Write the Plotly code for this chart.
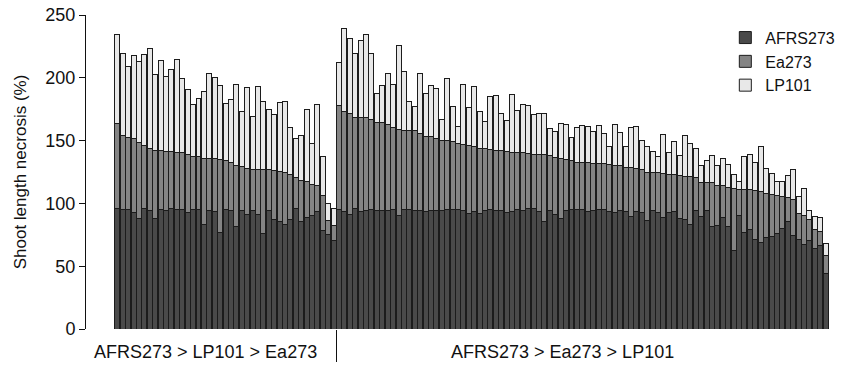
import plotly.graph_objects as go

# ---- data ----
group_labels = ["AFRS273 > LP101 > Ea273", "AFRS273 > Ea273 > LP101"]
series_names = ["AFRS273", "Ea273", "LP101"]

# cumulative tops: [AFRS273 top, AFRS273+Ea273 top, total top]
g1_afrs = [96.3, 95.5, 95.5, 92.9, 87.6, 96, 94.7, 87.6, 95, 94.5, 96, 95.5, 95.5, 92.6, 95.3, 95.3, 83, 94.7, 93.7, 77,
           95.3, 94.2, 81.5, 94.7, 91, 94.7, 91, 76.4, 94.7, 86.8, 85.7, 83, 87.3, 96.3, 85.5, 88.6, 90, 93.2, 78.8, 75.6, 70.6]
g1_mid = [164, 154, 152.3, 152, 148.4, 146.5, 144, 142.5, 142.3, 141.7, 141, 140.7, 140.7, 139, 137.2, 137, 135.9, 135.6, 135.4, 134.8,
          134, 132.7, 130.3, 129.5, 127.4, 127.1, 126.9, 126.9, 126.6, 126, 125.3, 125, 123.1, 120.5, 118.6, 117.8, 115.2, 114.1, 105.9, 86, 82.8]
g1_total = [234.3, 219.7, 209, 218, 213, 218.7, 223.7, 202.8, 213.9, 201.4, 207, 214.4, 199.8, 190.3, 179, 183.7, 189.2, 203.8, 200.6, 194,
            179.7, 182.6, 195, 173.3, 192.4, 168.8, 192.7, 181.3, 174.9, 170.4, 180.5, 181, 160.8, 151.3, 154.2, 174.4, 147.3, 178.9, 137.7, 100.3, 95.8]

g2_afrs = [95, 93.2, 91, 96, 93.2, 94.2, 95, 94.7, 94.5, 94.7, 95.5, 90, 95.3, 95.3, 94.7, 94.7, 93.2, 94.5, 94, 94.2,
           95.3, 95.3, 95, 94.2, 91.8, 93.7, 91.8, 94.2, 95.3, 94.2, 94.2, 92.4, 93.9, 95.3, 94.5, 96, 95.8, 93.7, 85.5, 94.5,
           90.8, 87.8, 94.2, 95.5, 95.5, 95, 93.4, 94, 95.3, 95, 93.4, 92.9, 94.5, 93.2, 89.4, 93.2, 92.9, 86.3, 94, 92.4,
           88.6, 92.9, 93.2, 88.1, 86.8, 83.3, 94, 89.4, 94.7, 82, 82.8, 88.9, 81.5, 62.6, 90.5, 77.2, 79, 71.1, 68.5, 73,
           73.3, 76.4, 80.1, 85.7, 74.3, 71.6, 66.9, 70.3, 64.4, 66.3, 43.8]
g2_mid = [177.8, 173.3, 171.4, 168.3, 168, 168, 167.2, 164.8, 164.3, 163, 160.3, 159.2, 158.4, 158.4, 158.4, 155.3, 153.4, 152.9, 151.5, 150.2,
          149.7, 149.4, 147.3, 146.8, 146, 145.4, 144.1, 143.8, 143.3, 142.5, 142, 141.2, 140.9, 140.7, 140.4, 140.1, 139.1, 138.8, 138.8, 138.3,
          136.7, 135.9, 134.8, 133.8, 132.2, 132.2, 132.2, 131.9, 131.6, 131.6, 130.6, 130, 129.8, 128.5, 128.5, 127.7, 127.1, 125, 125, 124.5,
          123.9, 123.4, 122.9, 122.1, 121.5, 121.3, 121, 117, 117, 117, 114.6, 114.4, 112.8, 111.5, 111.2, 110.9, 111, 110.1, 109.3, 107.5,
          106.9, 106.4, 105.6, 104.5, 103.5, 92.3, 90.7, 87, 79, 77.7, 58.9]
g2_total = [211.8, 239.1, 231.4, 219.5, 229.8, 234.6, 219.5, 187.9, 193.5, 203.6, 194.8, 225.6, 205.4, 181, 177.3, 203.6, 187.6, 194, 191.3, 167.2,
            199.8, 177, 161.4, 194.5, 176, 193.2, 172.8, 165, 185.2, 186.3, 171.2, 165.9, 187.1, 174.1, 178.9, 177.8, 170.4, 171.4, 171.2, 160,
            157.4, 163.5, 162.7, 152.3, 160.6, 162.2, 161.4, 157.1, 161.9, 155.3, 145.2, 163.2, 156.8, 145.7, 160.8, 161.1, 149.7, 145.7, 141.2, 137.7,
            154.7, 140.9, 149.2, 138.3, 153.9, 147.3, 143.6, 130, 134, 138.5, 130, 135.9, 130.8, 123.4, 117.6, 137.2, 139.2, 132.9, 145.4, 127.9,
            124.2, 117.3, 117.5, 122.3, 126.9, 105.6, 111.7, 94.7, 89.7, 89.1, 67.9]

y_ticks = [0, 50, 100, 150, 200, 250]

# ---- derived series ----
afrs = g1_afrs + g2_afrs
mid = g1_mid + g2_mid
total = g1_total + g2_total
ea = [round(m - a, 1) for m, a in zip(mid, afrs)]
lp = [round(t - m, 1) for t, m in zip(total, mid)]
n1, n2 = len(g1_afrs), len(g2_afrs)
n = n1 + n2
xs = list(range(n))

colors = ["#4a4a4a", "#848484", "#e8e8e8"]
fig = go.Figure()
for name, vals, col in zip(series_names, [afrs, ea, lp], colors):
    fig.add_trace(go.Bar(x=xs, y=vals, name=name,
                         marker=dict(color=col, line=dict(color="#1c1c1c", width=1))))

font = "Liberation Sans, Arial, sans-serif"
fig.update_layout(
    barmode="stack", bargap=0.08,
    width=848, height=366,
    margin=dict(l=86, r=16, t=15, b=37, autoexpand=False),
    paper_bgcolor="white", plot_bgcolor="white",
    font=dict(family=font, size=18, color="#111"),
    showlegend=True,
    legend=dict(traceorder="normal", x=0.857, xanchor="left", y=0.982, yanchor="top",
                font=dict(size=16), bgcolor="rgba(0,0,0,0)", itemwidth=30),
    xaxis=dict(range=[-5.81, n + 0.19], showgrid=False, zeroline=False, showline=False,
               automargin=False,
               tickvals=[n1 - 0.5], ticktext=[""], ticks="outside", ticklen=32,
               tickcolor="#111", tickwidth=1),
    yaxis=dict(range=[0, 250], tickvals=y_ticks, showgrid=False, zeroline=False,
               automargin=False,
               showline=True, linecolor="#111", linewidth=1, ticks="outside", ticklen=6,
               tickcolor="#111", tickfont=dict(size=18),
               title=dict(text="Shoot length necrosis (%)", font=dict(size=17), standoff=14)),
)

centers = [(n1 - 1) / 2, n1 + (n2 - 1) / 2]
for lab, c in zip(group_labels, centers):
    fig.add_annotation(x=c, y=0, xref="x", yref="paper", yshift=-23, xshift=-20,
                       text=lab, showarrow=False, font=dict(size=18), yanchor="middle")

fig.write_html("out.html", config={"displayModeBar": False},
               post_script="document.body.style.margin='0';")
